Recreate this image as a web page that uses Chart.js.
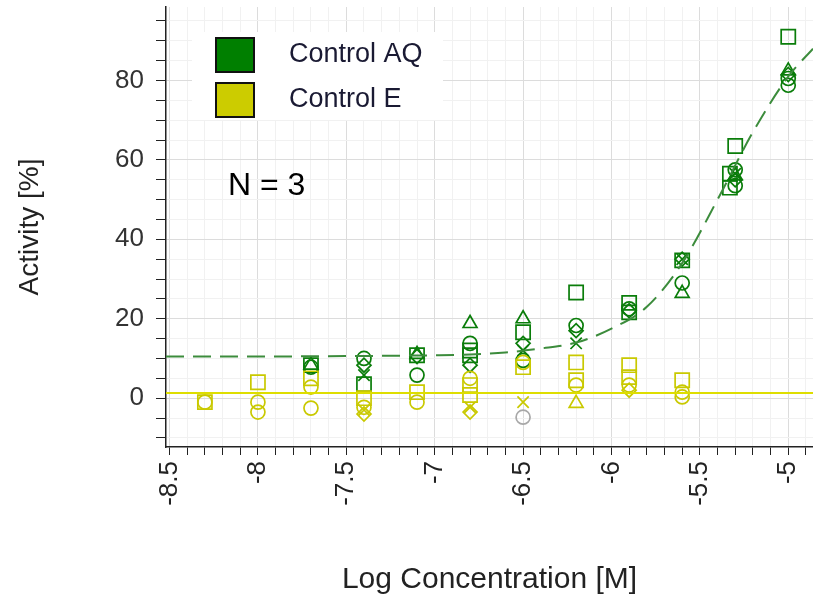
<!DOCTYPE html>
<html>
<head>
<meta charset="utf-8">
<script src="https://cdn.jsdelivr.net/npm/chart.js@4"></script>
<style>
  html, body { margin: 0; padding: 0; background: #fff; }
  #c { display: block; }
</style>
</head>
<body>
<canvas id="c" width="813" height="598"></canvas>
<script>
// Control AQ replicates (log M, % activity)
const aqSquareX = [-7.7, -7.4, -7.1, -6.8, -6.8, -6.5, -6.2, -5.9, -5.9, -5.6, -5.33, -5.33, -5.3, -5.0];
const aqSquareY = [8.3, 3.5, 10.8, 12, 10.8, 16.6, 26.6, 24, 21.6, 34.7, 56.5, 53, 63.5, 91];
const aqCircleX = [-7.7, -7.4, -7.1, -6.8, -6.5, -6.2, -5.9, -5.6, -5.3, -5.3, -5.0, -5.0];
const aqCircleY = [7.8, 10, 5.8, 13.8, 9.5, 18.3, 22.5, 29, 57.5, 53.5, 80.5, 78.8];
const aqTriX = [-7.7, -7.1, -6.8, -6.5, -5.6, -5.3, -5.0];
const aqTriY = [8.3, 11, 18.8, 20, 26.4, 56, 82.4];
const aqDiaX = [-7.4, -7.1, -6.8, -6.5, -6.2, -5.9, -5.6, -5.3, -5.0];
const aqDiaY = [8.3, 10.5, 8.3, 13.8, 17, 22, 35, 55, 81.5];
const aqCrossX = [-7.4, -6.5, -6.2, -5.6, -5.3];
const aqCrossY = [5.8, 12, 13.8, 35, 56.5];

// Control E replicates
const eSquareX = [-8.3, -8.0, -7.7, -7.4, -7.1, -6.8, -6.8, -6.5, -6.2, -6.2, -5.9, -5.9, -5.6];
const eSquareY = [-1, 4, 5, 0, 1.5, 3.3, 0.8, 7.8, 9, 4.5, 8.3, 5.3, 4.5];
const eCircleX = [-8.3, -8.0, -8.0, -7.7, -7.7, -7.4, -7.1, -6.8, -6.5, -6.2, -5.9, -5.6, -5.6];
const eCircleY = [-1, -1, -3.5, 2.8, -2.5, -2.3, -1, 5, 9, 3.3, 3.3, 1.5, 0.3];
const eDiaX = [-7.4, -6.8, -5.9];
const eDiaY = [-4, -3.5, 2];
const eTriX = [-6.2];
const eTriY = [-1.3];
const eCrossX = [-7.4, -6.8, -6.5];
const eCrossY = [-3, -2.3, -1];
const excludedX = [-6.5];
const excludedY = [-4.8];

// fitted curves
const aqFitX = [-8.52, -8.0, -7.5, -7.0, -6.8, -6.6, -6.4, -6.2, -6.0, -5.8, -5.6, -5.4, -5.2, -5.0, -4.86];
const aqFitY = [10.5, 10.5, 10.6, 10.8, 11, 11.5, 12.5, 14, 17.5, 23, 34, 50, 67, 81, 88];
const eFitX = [-8.52, -4.86];
const eFitY = [1.3, 1.3];

const legendNames = ['Control AQ', 'Control E'];

const GREEN = '#0a7d0a';
const YELLOW = '#c9c900';
const FONT = '"Liberation Sans", Arial, sans-serif';

function pts(xs, ys) {
  return xs.map((x, i) => ({ x: x, y: ys[i] }));
}

function markers(xs, ys, color, style, r) {
  return {
    type: 'scatter',
    data: pts(xs, ys),
    pointStyle: style,
    pointRadius: r,
    pointBorderWidth: 1.7,
    borderColor: color,
    backgroundColor: 'rgba(0,0,0,0)',
    order: 2
  };
}

const datasets = [
  markers(eSquareX, eSquareY, YELLOW, 'rect', 10),
  markers(eCircleX, eCircleY, YELLOW, 'circle', 7),
  markers(eDiaX, eDiaY, YELLOW, 'rectRot', 7),
  markers(eTriX, eTriY, YELLOW, 'triangle', 8),
  markers(eCrossX, eCrossY, YELLOW, 'crossRot', 8),
  markers(excludedX, excludedY, '#a8a8a8', 'circle', 7),
  markers(aqSquareX, aqSquareY, GREEN, 'rect', 10),
  markers(aqCircleX, aqCircleY, GREEN, 'circle', 7),
  markers(aqTriX, aqTriY, GREEN, 'triangle', 8),
  markers(aqDiaX, aqDiaY, GREEN, 'rectRot', 7),
  markers(aqCrossX, aqCrossY, GREEN, 'crossRot', 8),
  {
    type: 'line',
    data: pts(eFitX, eFitY),
    borderColor: '#dede00',
    borderWidth: 2,
    pointRadius: 0,
    order: 1
  },
  {
    type: 'line',
    data: pts(aqFitX, aqFitY),
    borderColor: '#3c8c3c',
    borderWidth: 2,
    borderDash: [18, 9],
    cubicInterpolationMode: 'monotone',
    pointRadius: 0,
    order: 1
  }
];

const overlay = {
  id: 'overlay',
  afterDraw(chart) {
    const ctx = chart.ctx;
    ctx.save();
    // legend box
    ctx.fillStyle = '#fff';
    ctx.fillRect(192, 32, 251, 88);
    ctx.lineWidth = 2;
    ctx.strokeStyle = '#111';
    ctx.fillStyle = '#007f00';
    ctx.fillRect(216, 38, 38, 34);
    ctx.strokeRect(216, 38, 38, 34);
    ctx.fillStyle = '#cccc00';
    ctx.fillRect(216, 83, 38, 34);
    ctx.strokeRect(216, 83, 38, 34);
    ctx.fillStyle = '#1a1a33';
    ctx.font = '27px ' + FONT;
    ctx.textBaseline = 'middle';
    ctx.fillText(legendNames[0], 289, 55);
    ctx.fillText(legendNames[1], 289, 100);
    ctx.fillStyle = '#000';
    ctx.font = '32px ' + FONT;
    ctx.fillText('N = 3', 228, 186);
    ctx.restore();
  }
};

const isMajorX = v => Math.abs(v * 2 - Math.round(v * 2)) < 1e-6;
const isMajorY = v => Math.abs(v % 20) < 1e-6;

const config = {
  data: { datasets: datasets },
  options: {
    responsive: false,
    animation: false,
    layout: { autoPadding: false, padding: { top: 7, right: 0, left: 0, bottom: 0 } },
    plugins: {
      legend: { display: false },
      tooltip: { enabled: false }
    },
    scales: {
      x: {
        type: 'linear',
        min: -8.52,
        max: -4.86,
        border: { color: '#222', width: 1.5 },
        grid: {
          color: c => isMajorX(c.tick.value) ? '#dcdcdc' : '#f1f1f1',
          tickColor: '#222',
          tickLength: 8
        },
        ticks: {
          stepSize: 0.1,
          includeBounds: false,
          autoSkip: false,
          minRotation: 90,
          maxRotation: 90,
          padding: 6,
          color: '#222',
          font: { family: FONT, size: 26 },
          callback: v => isMajorX(v) ? String(Math.round(v * 10) / 10) : ''
        },
        title: {
          display: true,
          text: 'Log Concentration [M]',
          color: '#222',
          font: { family: FONT, size: 30 },
          padding: { top: 0, bottom: 0 }
        },
        afterFit: s => {
          s.height = 151;
          s.paddingLeft = 0;
          s.paddingRight = 0;
        }
      },
      y: {
        type: 'linear',
        min: -12.3,
        max: 98.5,
        border: { color: '#222', width: 1.5 },
        grid: {
          color: c => isMajorY(c.tick.value) ? '#dcdcdc' : '#f1f1f1',
          tickColor: '#222',
          tickLength: 10
        },
        ticks: {
          stepSize: 5,
          includeBounds: false,
          autoSkip: false,
          padding: 12,
          color: '#333',
          font: { family: FONT, size: 26 },
          callback: v => isMajorY(v) ? String(v) : ''
        },
        title: {
          display: true,
          text: 'Activity [%]',
          color: '#222',
          font: { family: FONT, size: 28 },
          padding: { top: 13, bottom: 0 }
        },
        afterFit: s => {
          s.width = 166;
          s.paddingTop = 0;
          s.paddingBottom = 0;
        }
      }
    }
  },
  plugins: [overlay]
};

new Chart(document.getElementById('c'), config);
</script>
</body>
</html>
